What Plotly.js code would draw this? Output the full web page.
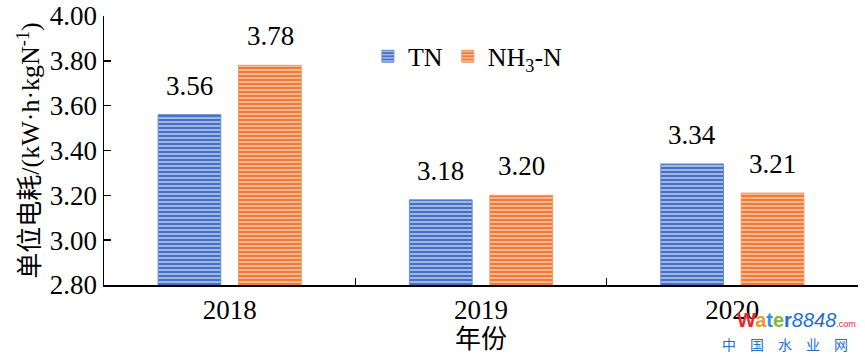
<!DOCTYPE html>
<html><head><meta charset="utf-8">
<script src="https://cdn.plot.ly/plotly-3.0.1.min.js"></script>
<style>html,body{margin:0;padding:0;background:#fff}#chart{width:865px;height:358px}</style>
</head><body><div id="chart"></div>
<script>
const years = ['2018', '2019', '2020'];
const tnValues = [3.56, 3.18, 3.34];
const nh3Values = [3.78, 3.20, 3.21];
const seriesNames = ['TN', 'NH<sub>3</sub>-N'];
const yTicks = [2.8, 3.0, 3.2, 3.4, 3.6, 3.8, 4.0];

const serif = "'Liberation Serif', 'Noto Sans CJK SC', serif";

function barTrace(name, vals, bg, fg, line) {
  return {
    type: 'bar', name: name, x: years, y: vals,
    marker: {
      color: bg,
      line: {color: line, width: 1},
      pattern: {shape: '-', bgcolor: bg, fgcolor: fg, size: 4, solidity: 0.35, fillmode: 'replace'}
    },
    hoverinfo: 'skip'
  };
}

const data = [
  barTrace(seriesNames[0], tnValues, '#4471c4', '#c7d5ef', '#6a8fd3'),
  barTrace(seriesNames[1], nh3Values, '#ee7b37', '#f9d2bb', '#f09a66')
];

const annotations = [];
const off = 0.161;
years.forEach((yr, i) => {
  annotations.push({x: i - off, y: tnValues[i], xref: 'x', yref: 'y', text: tnValues[i].toFixed(2),
    showarrow: false, yanchor: 'bottom', yshift: 12, font: {family: serif, size: 27, color: '#000'}});
  annotations.push({x: i + off, y: nh3Values[i], xref: 'x', yref: 'y', text: nh3Values[i].toFixed(2),
    showarrow: false, yanchor: 'bottom', yshift: 12, font: {family: serif, size: 27, color: '#000'}});
});
// watermark
annotations.push({xref: 'paper', yref: 'paper', x: 1.0, y: -0.13, xanchor: 'right', yanchor: 'middle', showarrow: false,
  text: '<b><span style="color:#e8262c">W</span><span style="color:#f29a1d">a</span><span style="color:#2f8fdd">t</span><span style="color:#7cbb2c">e</span><span style="color:#1f6fd1">r</span></b><i><span style="color:#1f6fd1">8848</span></i><span style="color:#e8262c;font-size:9px">.com</span>',
  font: {family: "'Liberation Sans', sans-serif", size: 20}});
annotations.push({xref: 'paper', yref: 'paper', x: 0.99, y: -0.22, xanchor: 'right', yanchor: 'middle', showarrow: false,
  text: '中　国　水　业　网', font: {family: "'Noto Sans CJK SC', sans-serif", size: 14, color: '#1f6fd1'}});

const layout = {
  width: 865, height: 358,
  margin: {l: 104, r: 7, t: 15.5, b: 72.5},
  paper_bgcolor: '#fff', plot_bgcolor: '#fff',
  bargap: 0.36, bargroupgap: 0.22,
  showlegend: true,
  legend: {orientation: 'h', x: 0.35, y: 0.85, xanchor: 'left', yanchor: 'middle',
    font: {family: serif, size: 26, color: '#000'}, itemwidth: 30, bgcolor: 'rgba(0,0,0,0)'},
  xaxis: {
    type: 'category', showline: true, linecolor: '#000', linewidth: 1.5,
    ticks: 'inside', tickson: 'boundaries', ticklen: 7, tickcolor: '#000', tickwidth: 1.5,
    tickfont: {family: serif, size: 27, color: '#000'},
    title: {text: '年份', font: {family: serif, size: 26, color: '#000'}, standoff: 4},
    showgrid: false, zeroline: false, fixedrange: true
  },
  yaxis: {
    range: [2.8, 4.0], tickvals: yTicks, ticktext: yTicks.map(v => v.toFixed(2)),
    showline: true, linecolor: '#000', linewidth: 1.5,
    ticks: 'inside', ticklen: 7, tickcolor: '#000', tickwidth: 1.5,
    tickfont: {family: serif, size: 27, color: '#000'},
    title: {text: '单位电耗/(kW·h·kgN<sup>-1</sup>)', font: {family: serif, size: 26, color: '#000'}, standoff: 2},
    showgrid: false, zeroline: false, fixedrange: true
  },
  annotations: annotations
};

Plotly.newPlot('chart', data, layout, {displayModeBar: false, staticPlot: true});
</script></body></html>
